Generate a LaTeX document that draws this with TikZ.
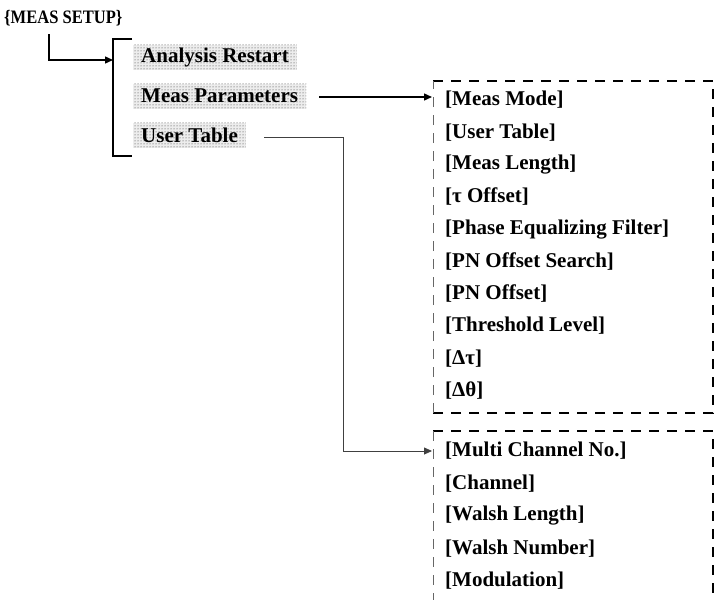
\documentclass[tikz,border=0pt]{standalone}
\usepackage{fontspec}
\setmainfont{Liberation Serif}
\usetikzlibrary{arrows.meta,patterns}
\begin{document}
\begin{tikzpicture}[x=1pt,y=-1pt,
  itemtext/.style={anchor=west,inner sep=0pt,font=\fontsize{21}{25}\selectfont\bfseries},
  menuitem/.style={anchor=west,inner xsep=8pt,inner ysep=0pt,minimum height=25pt,preaction={fill=black!7},pattern=dots,pattern color=black!80,font=\fontsize{21}{25}\selectfont\bfseries},
  conn/.style={line width=1.4pt,-{Triangle[length=8pt,width=7pt]}},
  thinconn/.style={line width=0.8pt,draw=black!75,-{Triangle[length=8pt,width=7pt]}},
  dashthick/.style={line width=1.5pt,dash pattern=on 10pt off 8pt},
  dashthin/.style={line width=0.7pt,draw=black!60,dash pattern=on 10pt off 8pt}]
\useasboundingbox (0,0) rectangle (715,600);
% title
\node[anchor=west,inner sep=0pt,font=\fontsize{19}{22}\selectfont\bfseries] (title) at (4,18) {\scalebox{0.87}[1]{\{MEAS SETUP\}}};
% bracket
\coordinate (btop) at (113,39);
\coordinate (bbot) at (113,156);
\coordinate (barr) at (113,60);
\draw[line width=1.4pt] (132,39) -- (btop) -- (bbot) -- (132,156);
\coordinate (t0) at (49,34);
\draw[conn] (t0) |- (barr);
% menu items
\node[menuitem] (ar) at (133,57) {Analysis Restart};
\node[menuitem] (mp) at (133,96) {Meas Parameters};
\node[menuitem] (ut) at (133,135) {User Table};
% box 1
\draw[dashthick] (433,81) -- (713,81) -- (713,413) -- (433,413);
\draw[dashthin] (433,413) -- (433,81);
\coordinate (b1in) at (432,97);
\coordinate (mpout) at (319,97);
\draw[conn] (mpout) -- (b1in);
% box 2
\draw[dashthick] (433,431) -- (713,431) -- (713,600);
\draw[dashthin] (433,431) -- (433,600);
\coordinate (utout) at (264,137);
\coordinate (utturn) at (343,137);
\coordinate (b2in) at (432,451);
\draw[thinconn] (utout) -- (utturn) |- (b2in);
% items box 1
\foreach \t [count=\i from 0] in {[Meas Mode],[User Table],[Meas Length],[τ Offset],[Phase Equalizing Filter],[PN Offset Search],[PN Offset],[Threshold Level],[Δτ],[Δθ]}
  \node[itemtext] (m\i) at (445,{100+32.3*\i}) {\t};
% items box 2
\foreach \t [count=\i from 0] in {[Multi Channel No.],[Channel],[Walsh Length],[Walsh Number],[Modulation]}
  \node[itemtext] (u\i) at (445,{451+32.5*\i}) {\t};
\end{tikzpicture}
\end{document}
